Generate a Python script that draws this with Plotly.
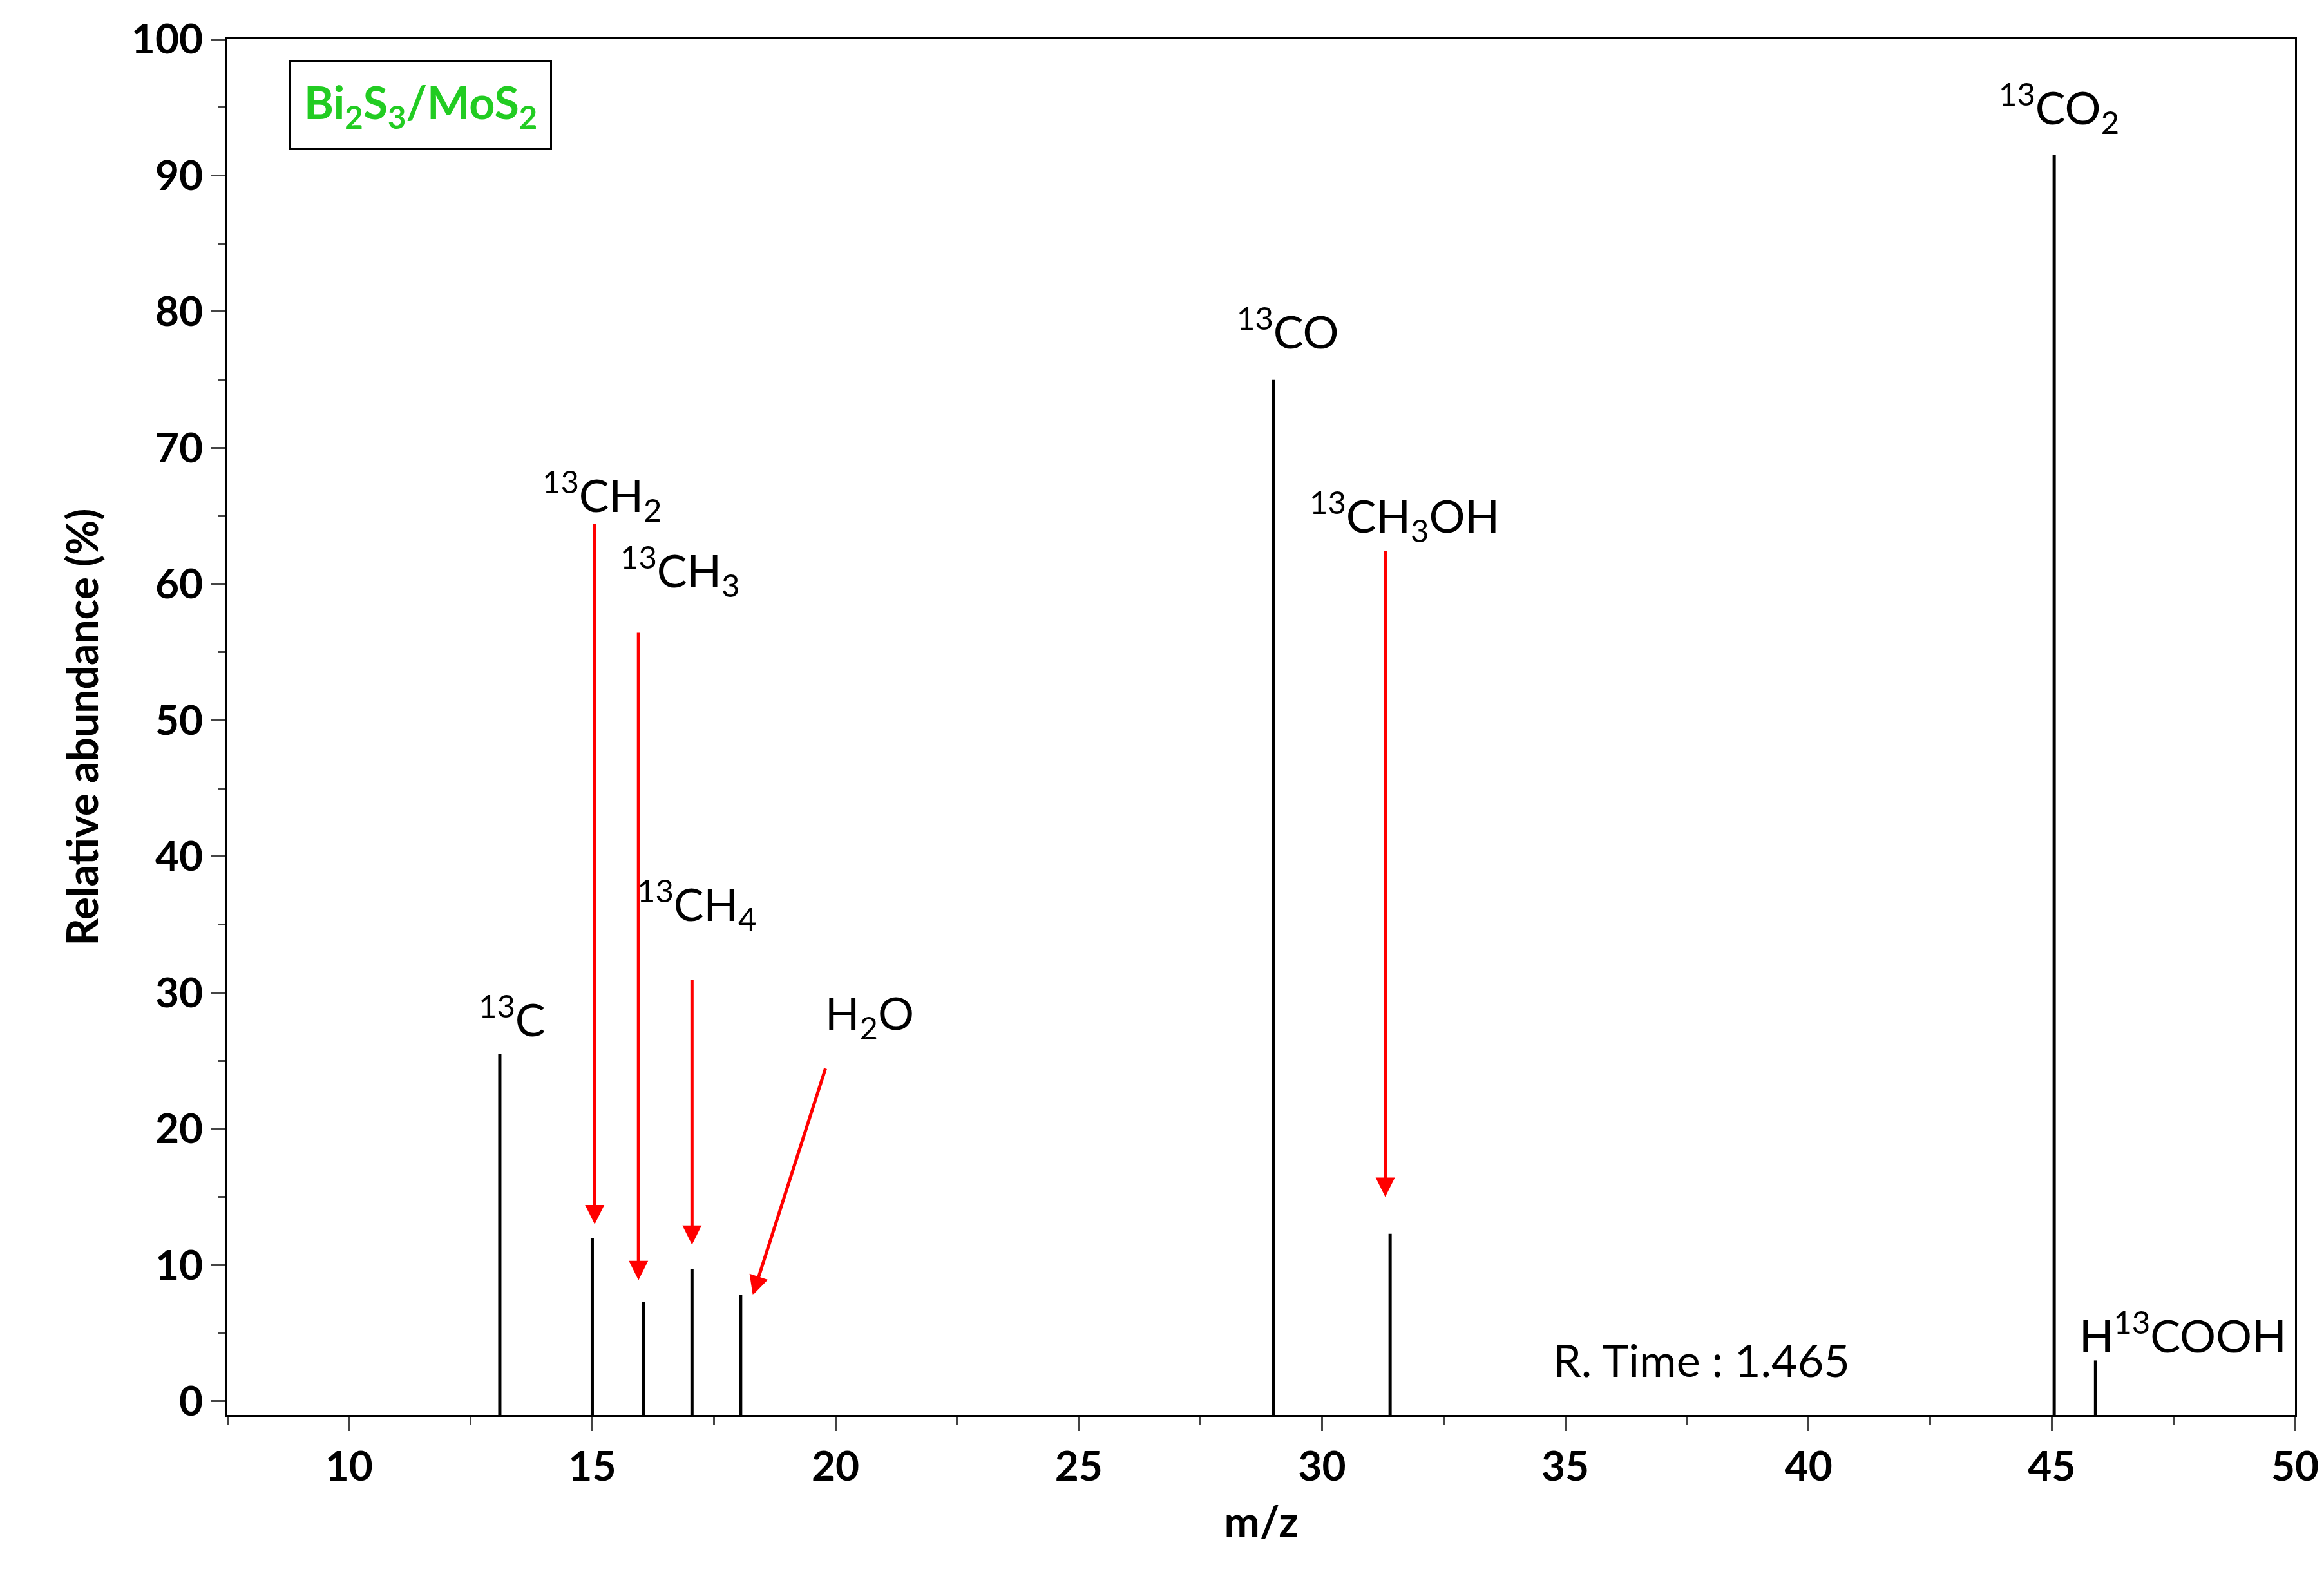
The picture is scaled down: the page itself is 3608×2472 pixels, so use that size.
import plotly.graph_objects as go

mz = [13.1, 15.0, 16.05, 17.05, 18.05, 29.0, 31.4, 45.05, 45.9]
abundance = [25.5, 12.0, 7.3, 9.7, 7.8, 75.0, 12.3, 91.5, 3.0]

labels = ["<sup>13</sup>C", "<sup>13</sup>CH<sub>2</sub>", "<sup>13</sup>CH<sub>3</sub>",
          "<sup>13</sup>CH<sub>4</sub>", "H<sub>2</sub>O", "<sup>13</sup>CO",
          "<sup>13</sup>CH<sub>3</sub>OH", "<sup>13</sup>CO<sub>2</sub>", "H<sup>13</sup>COOH"]
label_x = [13.35, 15.2, 16.8, 17.15, 20.7, 29.3, 31.7, 45.15, 47.7]
label_y = [26.0, 64.0, 58.5, 34.0, 26.0, 76.5, 62.5, 92.5, 2.8]

arrow_tail_x = [15.05, 15.95, 17.05, 19.8, 31.3]
arrow_tail_y = [64.5, 56.5, 31.0, 24.5, 62.5]
arrow_head_x = [15.05, 15.95, 17.05, 18.3, 31.3]
arrow_head_y = [13.0, 8.9, 11.5, 7.8, 15.0]

ymin = -1
xs, ys = [], []
for x, v in zip(mz, abundance):
    xs += [x, x, None]
    ys += [ymin, v, None]

fig = go.Figure(go.Scatter(x=xs, y=ys, mode="lines", line=dict(color="black", width=5),
                           showlegend=False, hoverinfo="skip"))

font = "Lato, Noto Sans, sans-serif"
for t, x, y in zip(labels, label_x, label_y):
    fig.add_annotation(x=x, y=y, text=t, showarrow=False, font=dict(size=70, color="black"),
                       xanchor="center", yanchor="bottom")

for tx, ty, hx, hy in zip(arrow_tail_x, arrow_tail_y, arrow_head_x, arrow_head_y):
    fig.add_annotation(x=hx, y=hy, ax=tx, ay=ty, axref="x", ayref="y", xref="x", yref="y",
                       text="", showarrow=True, arrowhead=2, arrowsize=1.2, arrowwidth=5,
                       arrowcolor="red")

fig.add_annotation(x=37.8, y=1.0, text="R. Time : 1.465", showarrow=False,
                   font=dict(size=70, color="black"), xanchor="center", yanchor="bottom")
fig.add_annotation(xref="paper", yref="paper", x=0.03, y=0.985, xanchor="left", yanchor="top",
                   text="Bi<sub>2</sub>S<sub>3</sub>/MoS<sub>2</sub>", showarrow=False,
                   font=dict(size=70, color="#22cc22", weight="bold"), bordercolor="black",
                   borderwidth=3, borderpad=20, bgcolor="white")

fig.update_layout(
    width=3608, height=2472, plot_bgcolor="white", paper_bgcolor="white",
    margin=dict(l=345, r=53, t=53, b=283), font=dict(family=font, size=60, color="black"),
)
fig.update_xaxes(range=[7.5, 50], tickvals=[10, 15, 20, 25, 30, 35, 40, 45, 50],
                 ticks="outside", ticklen=22, tickwidth=3, showline=True, linecolor="black",
                 linewidth=3, mirror=True, showgrid=False, zeroline=False,
                 minor=dict(dtick=2.5, ticks="outside", ticklen=12, tickwidth=3, tick0=0),
                 title=dict(text="m/z", font=dict(size=66, weight="bold"), standoff=30),
                 tickfont=dict(size=64, weight="bold"))
fig.update_yaxes(range=[ymin, 100], tickvals=list(range(0, 101, 10)),
                 ticks="outside", ticklen=22, tickwidth=3, showline=True, linecolor="black",
                 linewidth=3, mirror=True, showgrid=False, zeroline=False,
                 minor=dict(dtick=5, ticks="outside", ticklen=12, tickwidth=3, tick0=0),
                 title=dict(text="Relative abundance (%)", font=dict(size=66, weight="bold"),
                            standoff=30),
                 tickfont=dict(size=64, weight="bold"))

fig.write_html("out.html")
